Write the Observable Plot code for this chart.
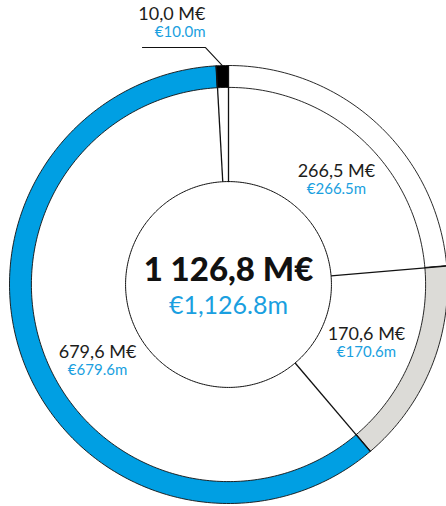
<!DOCTYPE html>
<html><head><meta charset="utf-8">
<script src="https://cdn.jsdelivr.net/npm/d3@7"></script>
<script src="https://cdn.jsdelivr.net/npm/@observablehq/plot@0.6"></script>
<style>body{margin:0;background:#fff}</style>
</head><body><div id="chart"></div>
<script>
// ---- data ----
const values = [266.5, 170.6, 679.6, 10.0];
const labelsFr = ["266,5 M€", "170,6 M€", "679,6 M€", "10,0 M€"];
const labelsEn = ["€266.5m", "€170.6m", "€679.6m", "€10.0m"];
const totalFr = ["1 126,8 M€"];
const totalEn = ["€1,126.8m"];

// ---- styles / layout ----
const fills = ["#ffffff", "#dcdbd7", "#009fe3", "#000000"];
const BLUE = "#1a9fe0", INK = "#1d1d1b";
const R_IN = 0.47, R_RING = 0.9, R_OUT = 1;
const labelPos = [[0.493, 0.490], [0.630, -0.254], [-0.598, -0.336], [-0.105, 1.207]];
const labelAnchor = ["middle", "middle", "middle", "end"];
const leaderElbow = [-0.105, 1.082], leaderEnd = [-0.393, 1.082];
const FONT = "Lato";

const total = d3.sum(values);
const ends = d3.cumsum(values).map(v => v / total * 360);
const starts = [0, ...ends.slice(0, -1)];
const rad = d => d * Math.PI / 180;
const polar = (a, r) => ({x: r * Math.sin(rad(a)), y: r * Math.cos(rad(a))});
function arcPoly(a0, a1, r0, r1) {
  const n = Math.max(2, Math.ceil(Math.abs(a1 - a0)));
  const pts = [];
  for (let i = 0; i <= n; i++) pts.push(polar(a0 + (a1 - a0) * i / n, r1));
  if (r0 != null) for (let i = n; i >= 0; i--) pts.push(polar(a0 + (a1 - a0) * i / n, r0));
  return pts;
}

const segs = values.map((v, i) => ({i, a0: starts[i], a1: ends[i], mid: (starts[i] + ends[i]) / 2}));
const labels = values.map((v, i) => ({fr: labelsFr[i], en: labelsEn[i], x: labelPos[i][0], y: labelPos[i][1], anchor: labelAnchor[i]}));

const ringMarks = segs.map(s => Plot.line(arcPoly(s.a0, s.a1, R_RING, R_OUT), {
  x: "x", y: "y", fill: fills[s.i], stroke: "#111", strokeWidth: 0.9, curve: "linear-closed"
}));

const leader = [polar(segs[3].mid, R_OUT), {x: leaderElbow[0], y: leaderElbow[1]}, {x: leaderEnd[0], y: leaderEnd[1]}];

const textMarks = ["middle", "end"].flatMap(anchor => [
  Plot.text(labels.filter(d => d.anchor === anchor), {x: "x", y: "y", text: "fr", textAnchor: anchor, lineAnchor: "bottom",
    fontSize: 18, fontFamily: FONT, fill: INK}),
  Plot.text(labels.filter(d => d.anchor === anchor), {x: "x", y: "y", text: "en", textAnchor: anchor, lineAnchor: "bottom",
    dy: 17, fontSize: 15, fontFamily: FONT, fill: BLUE})
]);

const svg = Plot.plot({
  width: 446, height: 506,
  x: {domain: [-1, 1], range: [9, 447], axis: null},
  y: {domain: [-1, 1], range: [503, 65], axis: null},
  marks: [
    ...ringMarks,
    Plot.line(arcPoly(0, 360, null, R_IN), {x: "x", y: "y", fill: "white", stroke: "#111", strokeWidth: 1, curve: "linear-closed"}),
    Plot.link(starts, {
      x1: a => polar(a, R_IN).x, y1: a => polar(a, R_IN).y,
      x2: a => polar(a, R_OUT).x, y2: a => polar(a, R_OUT).y,
      stroke: "#111", strokeWidth: 1.3
    }),
    Plot.line(leader, {x: "x", y: "y", stroke: "#111", strokeWidth: 1.1}),
    ...textMarks,
    Plot.text(totalFr, {x: 0, y: 0.018, text: d => d, lineAnchor: "bottom", fontSize: 33, fontWeight: 900,
      fontFamily: FONT, fill: "#111", ariaLabel: "total"}),
    Plot.text(totalEn, {x: 0, y: 0.018, text: d => d, lineAnchor: "bottom", dy: 33, fontSize: 25,
      fontFamily: FONT, fill: BLUE})
  ]
});
d3.select(svg).selectAll('g[aria-label="total"] text').style("letter-spacing", "1.6px");
document.getElementById("chart").appendChild(svg);
</script>
</body></html>
